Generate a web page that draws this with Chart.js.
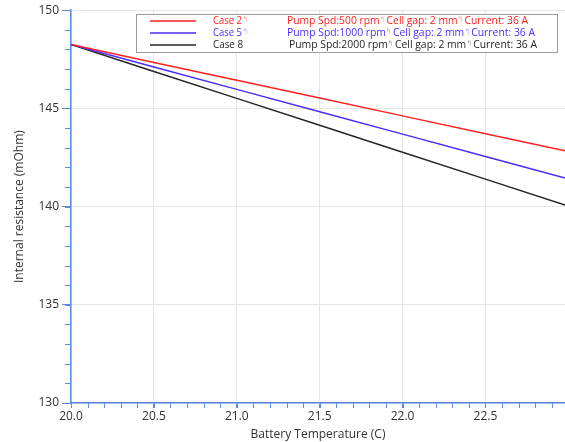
<!DOCTYPE html>
<html>
<head>
<meta charset="utf-8">
<script src="https://cdn.jsdelivr.net/npm/chart.js@4"></script>
<style>
  html, body { margin:0; padding:0; background:#fff; }
  #wrap { width:565px; height:442px; position:relative; }
</style>
</head>
<body>
<div id="wrap"><canvas id="chart"></canvas></div>
<script>
// temperatures (C)
const temps = [20.0, 20.5, 21.0, 21.5, 22.0, 22.5, 22.98];
// internal resistance (mOhm) per case
const case2 = [148.25, 147.34, 146.43, 145.53, 144.62, 143.71, 142.84];
const case5 = [148.25, 147.11, 145.97, 144.83, 143.69, 142.55, 141.46];
const case8 = [148.25, 146.88, 145.51, 144.14, 142.77, 141.40, 140.08];

const caseNames = ["Case 2\u21B0", "Case 5\u21B0", "Case 8"];
const caseDesc = [
  "Pump Spd:500 rpm\u21B0Cell gap: 2 mm\u21B0Current: 36 A",
  "Pump Spd:1000 rpm\u21B0Cell gap: 2 mm\u21B0Current: 36 A",
  "Pump Spd:2000 rpm\u21B0Cell gap: 2 mm\u21B0Current: 36 A"
];
const colors = ["#ff2020", "#4b2cff", "#262626"];

const axisBlue = "#5a8ae6";
const FONT = "'Open Sans', 'Noto Sans', sans-serif";

function pts(ys){ return temps.map((t,i)=>({x:t, y:ys[i]})); }

// legend text is narrow in the original; squeeze it to the measured width,
// and draw the small line-break marks thin and faint
function drawMarked(ctx, text, x, y, width){
  const slot = 7;
  const parts = text.split('\u21B0');
  ctx.font = "11.5px " + FONT;
  const natural = parts.reduce((s, p) => s + ctx.measureText(p).width, 0);
  const marks = text.endsWith('\u21B0') ? parts.length - 1 : parts.length - 1;
  const sx = Math.min(1, (width - marks*slot) / natural);
  parts.forEach((p, k) => {
    ctx.font = "11.5px " + FONT;
    ctx.save(); ctx.translate(x, y); ctx.scale(sx, 1);
    ctx.fillText(p, 0, 0);
    ctx.restore();
    x += ctx.measureText(p).width * sx;
    if (k < parts.length - 1){
      ctx.font = "8px " + FONT;
      ctx.globalAlpha = 0.5;
      ctx.fillText('\u21B0', x + 0.5, y - 1, 5);
      ctx.globalAlpha = 1;
      x += slot;
    }
  });
}

// minor ticks + boxed legend drawn on the canvas
const extras = {
  id: 'extras',
  afterDraw(chart){
    const {ctx, scales:{x, y}} = chart;
    ctx.save();
    ctx.strokeStyle = axisBlue;
    ctx.lineWidth = 1;
    for (let v = 200; v <= 229; v++){
      const px = Math.round(x.getPixelForValue(v/10)) + 0.5;
      ctx.beginPath(); ctx.moveTo(px, y.bottom); ctx.lineTo(px, y.bottom + 5); ctx.stroke();
    }
    for (let v = 130; v <= 150; v++){
      const py = Math.round(y.getPixelForValue(v)) + 0.5;
      ctx.beginPath(); ctx.moveTo(x.left - 6, py); ctx.lineTo(x.left, py); ctx.stroke();
    }
    // legend
    const bx = 136.5, by = 14.5, bw = 421, bh = 38;
    ctx.fillStyle = '#fff';
    ctx.fillRect(bx, by, bw, bh);
    ctx.strokeStyle = '#9a9a9a';
    ctx.strokeRect(bx, by, bw, bh);
    ctx.textBaseline = 'middle';
    const descX = [287, 287, 289], descW = [241, 248, 248], nameW = [36, 36, 30];
    chart.data.datasets.forEach((ds, i) => {
      const ry = 21 + i*12;
      ctx.strokeStyle = colors[i]; ctx.lineWidth = 1.5;
      ctx.beginPath(); ctx.moveTo(150, ry); ctx.lineTo(196, ry); ctx.stroke();
      ctx.fillStyle = colors[i];
      drawMarked(ctx, caseNames[i], 213, ry, nameW[i]);
      drawMarked(ctx, caseDesc[i], descX[i], ry, descW[i]);
    });
    ctx.restore();
  }
};

new Chart(document.getElementById('chart'), {
  type: 'line',
  data: {
    datasets: [
      { label: caseNames[0], data: pts(case2), borderColor: colors[0] },
      { label: caseNames[1], data: pts(case5), borderColor: colors[1] },
      { label: caseNames[2], data: pts(case8), borderColor: colors[2] }
    ]
  },
  options: {
    responsive: true,
    maintainAspectRatio: false,
    animation: false,
    layout: { padding: { top: 0, right: 0, left: 0, bottom: 0 } },
    elements: {
      line: { borderWidth: 1.5, tension: 0, fill: false },
      point: { radius: 0 }
    },
    plugins: { legend: { display: false }, tooltip: { enabled: false } },
    scales: {
      x: {
        type: 'linear', min: 20, max: 22.98,
        afterFit(s){ s.height = 39; },
        border: { color: axisBlue, width: 1.5 },
        grid: { color: '#e6e6e6', tickColor: axisBlue, tickLength: 5 },
        ticks: { stepSize: 0.5, includeBounds: false, color: '#333', padding: 1,
                 font: { family: FONT, size: 12 },
                 callback: v => Number(v).toFixed(1) },
        title: { display: true, text: 'Battery Temperature (C)', color: '#333',
                 font: { family: FONT, size: 12 }, padding: { top: 0, bottom: 0 } }
      },
      y: {
        min: 130, max: 150,
        afterFit(s){ s.width = 71; },
        border: { color: axisBlue, width: 1.5 },
        grid: { color: '#e6e6e6', tickColor: axisBlue, tickLength: 9 },
        ticks: { stepSize: 5, color: '#333', padding: 3,
                 font: { family: FONT, size: 12 } },
        title: { display: true, text: 'Internal resistance (mOhm)', color: '#333',
                 font: { family: FONT, size: 12 }, padding: { top: 12, bottom: 0 } }
      }
    }
  },
  plugins: [extras]
});
</script>
</body>
</html>
